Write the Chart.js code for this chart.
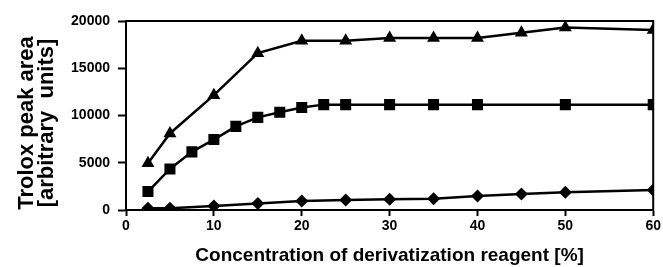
<!DOCTYPE html>
<html>
<head>
<meta charset="utf-8">
<script src="https://cdn.jsdelivr.net/npm/chart.js@4"></script>
<style>
    html, body { margin: 0; padding: 0; background: #fff; }
    #wrap { width: 663px; height: 267px; }
</style>
</head>
<body>
<div id="wrap"><canvas id="chart" width="663" height="267"></canvas></div>
<script>
// Reagent concentration (%) and Trolox peak areas
const triX = [2.5, 5, 10, 15, 20, 25, 30, 35, 40, 45, 50, 60];
const triY = [4950, 8100, 12150, 16600, 17900, 17900, 18200, 18200, 18200, 18750, 19300, 19050];

const sqX = [2.5, 5, 7.5, 10, 12.5, 15, 17.5, 20, 22.5, 25, 30, 35, 40, 50, 60];
const sqY = [1950, 4350, 6150, 7450, 8850, 9800, 10350, 10850, 11150, 11150, 11150, 11150, 11150, 11150, 11150];

const diaX = [2.5, 5, 10, 15, 20, 25, 30, 35, 40, 45, 50, 60];
const diaY = [180, 180, 420, 700, 950, 1060, 1150, 1200, 1480, 1690, 1870, 2110];

const xTicks = [0, 10, 20, 30, 40, 50, 60];
const yTicks = [0, 5000, 10000, 15000, 20000];

const yTitle = ['Trolox peak area', '[arbitrary  units]'];

const FONT = 'Arial, "Liberation Sans", sans-serif';

function pts(xs, ys) {
    return xs.map((x, i) => ({ x, y: ys[i] }));
}

function series(xs, ys, style, radius) {
    return {
        data: pts(xs, ys),
        borderColor: '#000',
        backgroundColor: '#000',
        borderWidth: 2.5,
        pointStyle: style,
        pointRadius: radius,
        pointBorderWidth: 0,
        tension: 0
    };
}

// box around the plot area + the two-line y title (sits a bit low in the original)
const frame = {
    id: 'frame',
    afterDatasetsDraw(chart) {
        const { ctx, chartArea: a } = chart;
        ctx.save();
        ctx.strokeStyle = '#000';
        ctx.lineWidth = 2;
        ctx.strokeRect(a.left, a.top, a.right - a.left, a.bottom - a.top);
        ctx.restore();
    },
    afterDraw(chart) {
        const { ctx } = chart;
        ctx.save();
        ctx.translate(27, 123);
        ctx.rotate(-Math.PI / 2);
        ctx.fillStyle = '#000';
        ctx.font = 'bold 22px ' + FONT;
        ctx.textAlign = 'center';
        ctx.textBaseline = 'middle';
        yTitle.forEach((line, i) => ctx.fillText(line, 0, i * 20));
        ctx.restore();
    }
};

new Chart(document.getElementById('chart'), {
    type: 'line',
    data: {
        datasets: [
            series(triX, triY, 'triangle', 7.5),
            series(sqX, sqY, 'rect', 7.8),
            series(diaX, diaY, 'rectRot', 6.5)
        ]
    },
    options: {
        responsive: false,
        animation: false,
        layout: { padding: { left: 4, top: 21, right: 8, bottom: 0 } },
        plugins: {
            legend: { display: false },
            tooltip: { enabled: false }
        },
        scales: {
            x: {
                type: 'linear',
                min: 0, max: 60,
                afterBuildTicks: s => { s.ticks = xTicks.map(v => ({ value: v })); },
                afterFit: s => { s.height = 57; },
                grid: { drawOnChartArea: false, tickLength: 6, tickWidth: 2, tickColor: '#000' },
                border: { color: '#000', width: 2 },
                ticks: { color: '#000', font: { family: FONT, size: 14, weight: 'bold' }, padding: 2, maxRotation: 0,
                         callback: v => String(v) },
                title: {
                    display: true,
                    text: 'Concentration of derivatization reagent [%]',
                    color: '#000',
                    font: { family: FONT, size: 19, weight: 'bold' },
                    padding: { top: 4, bottom: 0 }
                }
            },
            y: {
                min: 0, max: 20000,
                afterBuildTicks: s => { s.ticks = yTicks.map(v => ({ value: v })); },
                afterFit: s => { s.width = 122; },
                grid: { drawOnChartArea: false, tickLength: 8, tickWidth: 2, tickColor: '#000' },
                border: { color: '#000', width: 2 },
                ticks: { color: '#000', font: { family: FONT, size: 14, weight: 'bold' }, padding: 8,
                         callback: v => String(v) }
            }
        }
    },
    plugins: [frame]
});
</script>
</body>
</html>
